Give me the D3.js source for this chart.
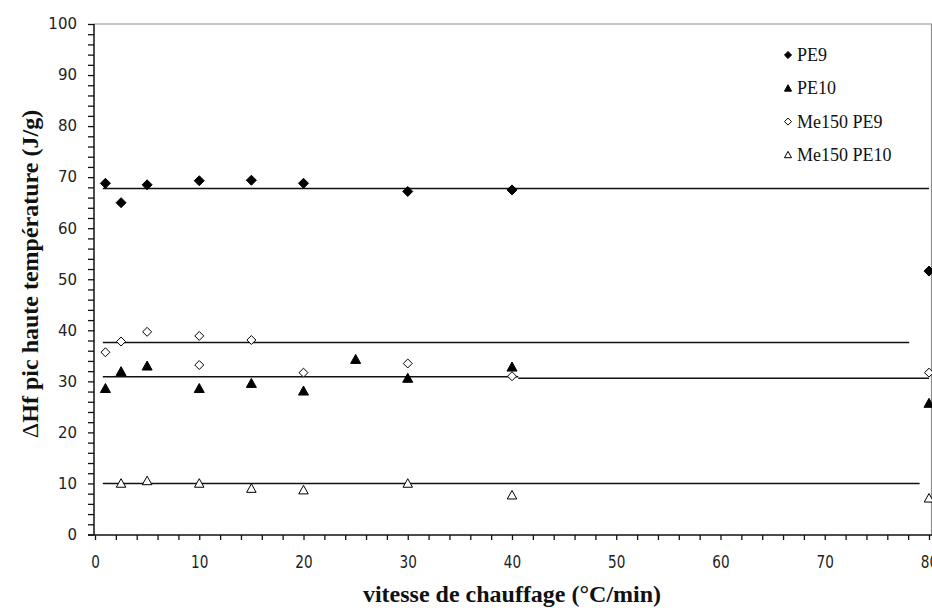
<!DOCTYPE html>
<html>
<head>
<meta charset="utf-8">
<script src="https://cdn.jsdelivr.net/npm/d3@7"></script>
<style>
  body { margin: 0; background: #fff; }
  svg { display: block; }
</style>
</head>
<body>
<script>
// heating rates (°C/min) and ΔHf values (J/g)
const pe9X = [1, 2.5, 5, 10, 15, 20, 30, 40, 80];
const pe9Y = [68.8, 65.0, 68.5, 69.3, 69.4, 68.8, 67.2, 67.5, 51.6];

const pe10X = [1, 2.5, 5, 10, 15, 20, 25, 30, 40, 80];
const pe10Y = [28.6, 31.9, 33.0, 28.6, 29.6, 28.1, 34.3, 30.6, 32.8, 25.7];

const me9X = [1, 2.5, 5, 10, 10, 15, 20, 30, 40, 80];
const me9Y = [35.7, 37.8, 39.7, 38.9, 33.2, 38.1, 31.7, 33.5, 31.0, 31.7];

const me10X = [2.5, 5, 10, 15, 20, 30, 40, 80];
const me10Y = [10.0, 10.5, 10.0, 9.0, 8.7, 10.0, 7.7, 7.1];

// horizontal mean lines: [x start, x end, value]
const meanLines = [
  [0.75, 80, 67.8],
  [0.75, 78.1, 37.6],
  [0.75, 40.6, 30.9],
  [40.6, 80, 30.6],
  [0.75, 79.1, 10.0]
];

const xTicks = [0, 10, 20, 30, 40, 50, 60, 70, 80];
const yTicks = [0, 10, 20, 30, 40, 50, 60, 70, 80, 90, 100];
const seriesNames = ["PE9", "PE10", "Me150 PE9", "Me150 PE10"];

const W = 932, H = 608;
const svg = d3.select("body").append("svg").attr("width", W).attr("height", H);

const x = d3.scaleLinear().domain([0, 80]).range([95, 929]);
const y = d3.scaleLinear().domain([0, 100]).range([534.5, 24]);

// plot frame (grey top / right)
svg.append("path")
  .attr("d", `M94,24H931.5V535`)
  .attr("fill", "none").attr("stroke", "#8c8c8c").attr("stroke-width", 1.2);

// minor ticks every 2
const yMinor = d3.range(0, 101, 2);
const xMinor = d3.range(0, 81, 2);

const yAxis = svg.append("g").attr("transform", "translate(94,0)")
  .call(d3.axisLeft(y).tickValues(yMinor).tickSize(6).tickFormat(""));
yAxis.select(".domain").remove();
yAxis.selectAll("line").attr("stroke", "#111").attr("stroke-width", 1.3);

const yLab = svg.append("g").attr("transform", "translate(94,0)")
  .call(d3.axisLeft(y).tickValues(yTicks).tickSize(0).tickPadding(17));
yLab.select(".domain").remove();
yLab.selectAll("text").attr("font-family", "DejaVu Sans").attr("font-size", 15).attr("fill", "#222");

const xAxis = svg.append("g").attr("transform", "translate(0,535)")
  .call(d3.axisBottom(x).tickValues(xMinor).tickSize(5).tickFormat(""));
xAxis.select(".domain").remove();
xAxis.selectAll("line").attr("stroke", "#111").attr("stroke-width", 1.3);

const xLab = svg.append("g").attr("transform", "translate(0,535)")
  .call(d3.axisBottom(x).tickValues(xTicks).tickSize(0).tickPadding(21));
xLab.select(".domain").remove();
xLab.selectAll("text")
  .attr("font-family", "DejaVu Sans").attr("font-size", 17).attr("fill", "#222")
  .attr("transform", "scale(0.8,1)");

// axis lines
svg.append("line").attr("x1", 94).attr("x2", 94).attr("y1", 24).attr("y2", 535)
  .attr("stroke", "#111").attr("stroke-width", 1.5);
svg.append("line").attr("x1", 88).attr("x2", 932).attr("y1", 535).attr("y2", 535)
  .attr("stroke", "#111").attr("stroke-width", 1.5);

// mean lines
svg.append("g").selectAll("line").data(meanLines).join("line")
  .attr("x1", d => x(d[0])).attr("x2", d => x(d[1]))
  .attr("y1", d => y(d[2])).attr("y2", d => y(d[2]))
  .attr("stroke", "#111").attr("stroke-width", 1.5);

// marker shapes
const diamond = {
  draw(ctx, size) {
    const r = Math.sqrt(size) / 2;
    ctx.moveTo(0, -r); ctx.lineTo(r, 0); ctx.lineTo(0, r); ctx.lineTo(-r, 0); ctx.closePath();
  }
};
const triangle = {
  draw(ctx, size) {
    const r = Math.sqrt(size) / 2;
    ctx.moveTo(0, -r); ctx.lineTo(r, r * 0.8); ctx.lineTo(-r, r * 0.8); ctx.closePath();
  }
};

const series = [
  { xs: pe9X, ys: pe9Y, shape: diamond, fill: "#000", size: 100 },
  { xs: pe10X, ys: pe10Y, shape: triangle, fill: "#000", size: 100 },
  { xs: me9X, ys: me9Y, shape: diamond, fill: "#fff", size: 80 },
  { xs: me10X, ys: me10Y, shape: triangle, fill: "#fff", size: 90 }
];

series.forEach(s => {
  svg.append("g").selectAll("path").data(d3.zip(s.xs, s.ys)).join("path")
    .attr("d", d3.symbol(s.shape, s.size)())
    .attr("transform", d => `translate(${x(d[0])},${y(d[1])})`)
    .attr("fill", s.fill).attr("stroke", "#000").attr("stroke-width", 1);
});

// legend
const leg = svg.append("g");
seriesNames.forEach((name, i) => {
  const cy = 55 + i * 33.3;
  const s = series[i];
  leg.append("path")
    .attr("d", d3.symbol(s.shape, 50)())
    .attr("transform", `translate(788,${cy})`)
    .attr("fill", s.fill).attr("stroke", "#000").attr("stroke-width", 1);
  leg.append("text").attr("x", 797).attr("y", cy + 6)
    .attr("font-family", "Liberation Serif").attr("font-size", 18).attr("fill", "#111")
    .text(name);
});

// axis titles
svg.append("text")
  .attr("x", 512).attr("y", 602).attr("text-anchor", "middle")
  .attr("font-family", "Liberation Serif").attr("font-weight", "bold").attr("font-size", 24)
  .attr("fill", "#111")
  .text("vitesse de chauffage (°C/min)");

const yt = svg.append("text")
  .attr("transform", "translate(38,274) rotate(-90)").attr("text-anchor", "middle")
  .attr("font-family", "Liberation Serif").attr("font-weight", "bold").attr("font-size", 24)
  .attr("fill", "#111");
yt.append("tspan").attr("font-weight", "normal").text("Δ");
yt.append("tspan").text("Hf pic haute température (J/g)");
</script>
</body>
</html>
